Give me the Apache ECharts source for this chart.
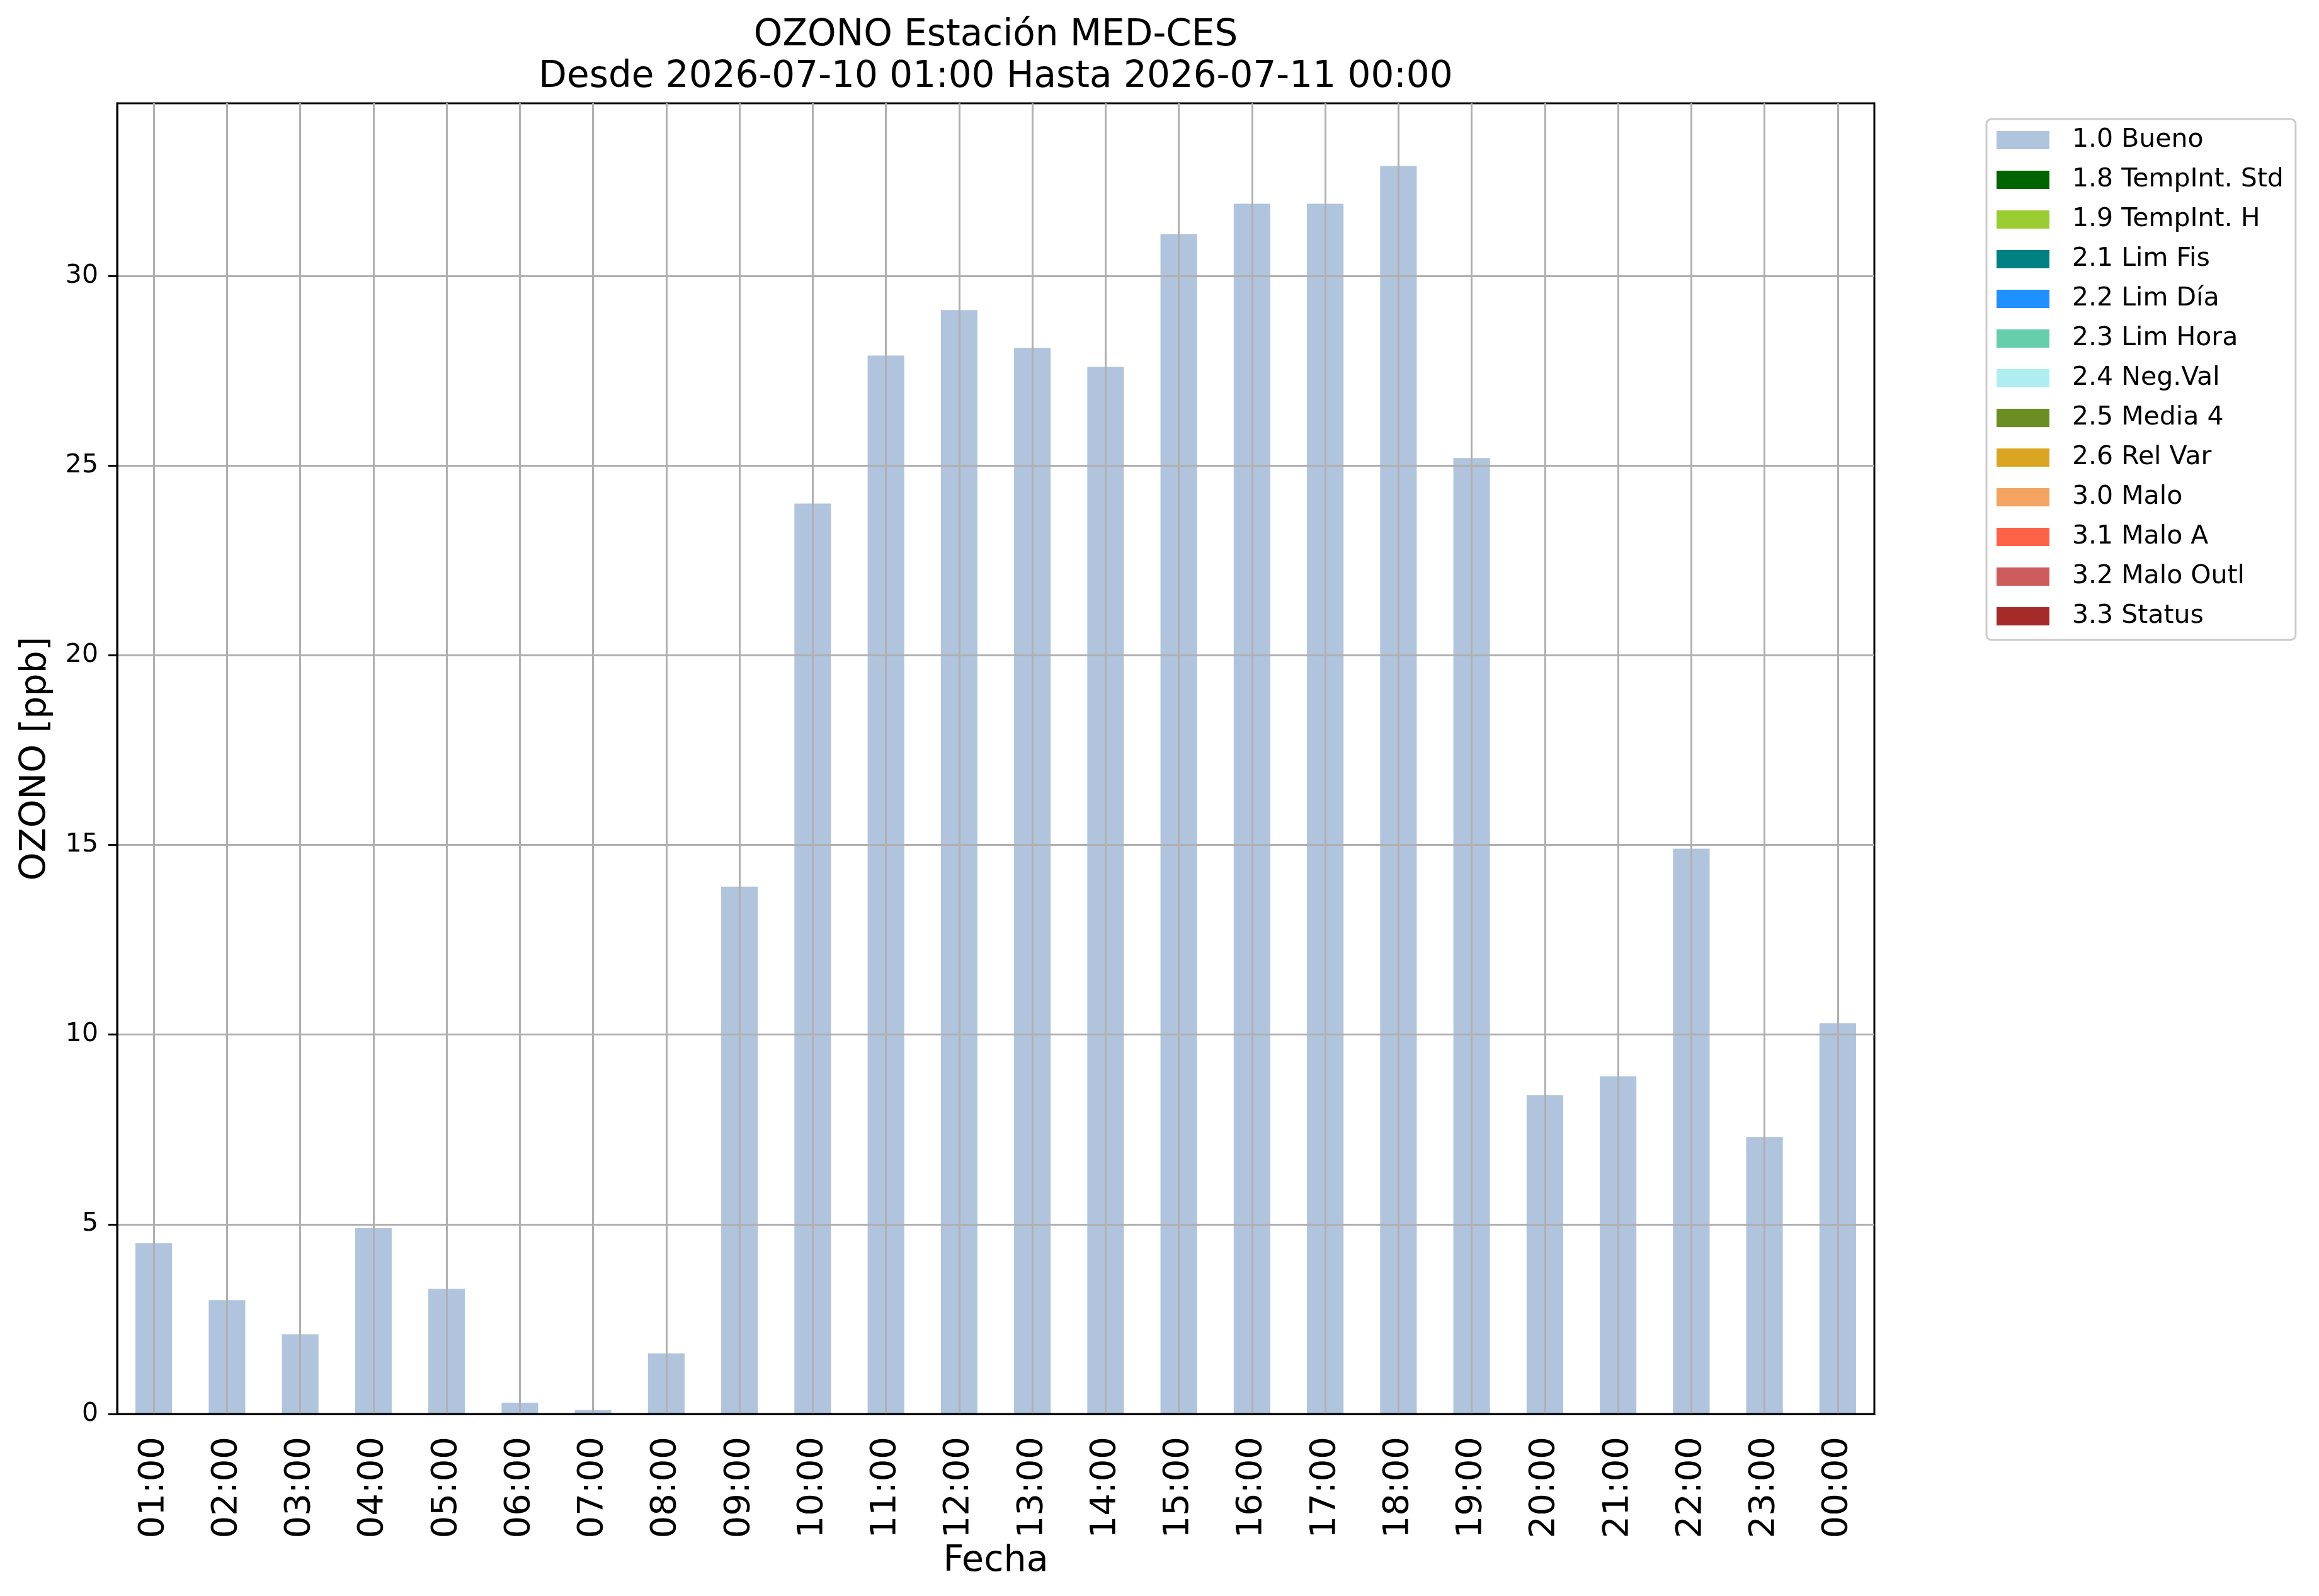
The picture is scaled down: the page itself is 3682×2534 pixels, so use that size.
<!DOCTYPE html>
<html>
<head>
<meta charset="utf-8">
<title>OZONO Estación MED-CES</title>
<script src="https://cdn.jsdelivr.net/npm/echarts@6/dist/echarts.min.js"></script>
<style>
  html, body { margin: 0; padding: 0; background: #fff; }
  #main { width: 3682px; height: 2534px; }
</style>
</head>
<body>
<div id="main"></div>
<script>
// hours on the x axis
const hours = ['01:00', '02:00', '03:00', '04:00', '05:00', '06:00', '07:00', '08:00',
  '09:00', '10:00', '11:00', '12:00', '13:00', '14:00', '15:00', '16:00',
  '17:00', '18:00', '19:00', '20:00', '21:00', '22:00', '23:00', '00:00'];

// ozone [ppb], all flagged "1.0 Bueno"
const bueno = [4.5, 3.0, 2.1, 4.9, 3.3, 0.3, 0.1, 1.6,
  13.9, 24.0, 27.9, 29.1, 28.1, 27.6, 31.1, 31.9,
  31.9, 32.9, 25.2, 8.4, 8.9, 14.9, 7.3, 10.3];

// flag categories with no values in this period
const flagNames = ['1.0 Bueno', '1.8 TempInt. Std', '1.9 TempInt. H', '2.1 Lim Fis',
  '2.2 Lim Día', '2.3 Lim Hora', '2.4 Neg.Val', '2.5 Media 4', '2.6 Rel Var',
  '3.0 Malo', '3.1 Malo A', '3.2 Malo Outl', '3.3 Status'];
const flagColors = ['#B0C4DE', '#006400', '#9ACD32', '#008080', '#1E90FF', '#66CDAA',
  '#AFEEEE', '#6B8E23', '#DAA520', '#F4A460', '#FF6347', '#CD5C5C', '#A52A2A'];
const flagValues = [bueno, [], [], [], [], [], [], [], [], [], [], [], []];

const yTicks = [0, 5, 10, 15, 20, 25, 30];
const yMax = 34.55;

document.addEventListener('DOMContentLoaded', function () {
  var chartDom = document.getElementById('main');
  var myChart = echarts.init(chartDom);
  const font = 'DejaVu Sans';
  const plotLeft = 186, plotRight = 2976;
  const midX = (plotLeft + plotRight) / 2;

  const series = flagNames.map((name, i) => ({
    name: name,
    type: 'bar',
    stack: 'total',
    barWidth: '50%',
    z: -1,
    itemStyle: { color: flagColors[i] },
    data: flagValues[i]
  }));

  var option = {
    animation: false,
    backgroundColor: '#fff',
    graphic: [
      {
        type: 'text', x: midX, y: 57,
        style: {
          text: 'OZONO Estación MED-CES', fill: '#000',
          font: '58px "DejaVu Sans"', align: 'center', verticalAlign: 'middle',
          textAlign: 'center', textVerticalAlign: 'middle'
        }
      },
      {
        type: 'text', x: midX, y: 123,
        style: {
          text: 'Desde 2026-07-10 01:00 Hasta 2026-07-11 00:00', fill: '#000',
          font: '58px "DejaVu Sans"', align: 'center', verticalAlign: 'middle',
          textAlign: 'center', textVerticalAlign: 'middle'
        }
      }
    ],
    legend: {
      orient: 'vertical',
      left: 3154,
      top: 189,
      icon: 'rect',
      itemWidth: 84,
      itemHeight: 29,
      itemGap: 22,
      padding: [13, 19, 17, 16],
      borderColor: '#cccccc',
      borderWidth: 3,
      borderRadius: 8,
      backgroundColor: '#fff',
      selectedMode: false,
      textStyle: { fontFamily: font, fontSize: 41, lineHeight: 41, color: '#000', padding: [0, 0, 0, 31] },
      data: flagNames
    },
    grid: {
      left: plotLeft,
      right: 3682 - plotRight,
      top: 164,
      bottom: 2534 - 2245,
      show: true,
      borderColor: '#000',
      borderWidth: 3,
      backgroundColor: 'transparent'
    },
    xAxis: {
      type: 'category',
      data: hours,
      name: 'Fecha',
      nameLocation: 'middle',
      nameGap: 197,
      nameTextStyle: { fontFamily: font, fontSize: 57, color: '#000' },
      axisLine: { lineStyle: { color: '#000', width: 3 } },
      axisTick: { alignWithLabel: true, length: 14, lineStyle: { color: '#000', width: 3 } },
      axisLabel: { rotate: 90, interval: 0, margin: 36, fontFamily: font, fontSize: 56, color: '#000' },
      splitLine: { show: true, alignWithLabel: true, lineStyle: { color: '#b0b0b0', width: 3 } }
    },
    yAxis: {
      type: 'value',
      min: 0,
      max: yMax,
      interval: 5,
      name: 'OZONO [ppb]',
      nameLocation: 'middle',
      nameGap: 100,
      nameTextStyle: { fontFamily: font, fontSize: 57, color: '#000' },
      axisLine: { show: true, lineStyle: { color: '#000', width: 3 } },
      axisTick: { show: true, length: 14, customValues: yTicks, lineStyle: { color: '#000', width: 3 } },
      axisLabel: { margin: 30, customValues: yTicks, fontFamily: font, fontSize: 41, color: '#000' },
      splitLine: { show: true, lineStyle: { color: '#b0b0b0', width: 3 } }
    },
    series: series
  };

  option && myChart.setOption(option);
});
</script>
</body>
</html>
